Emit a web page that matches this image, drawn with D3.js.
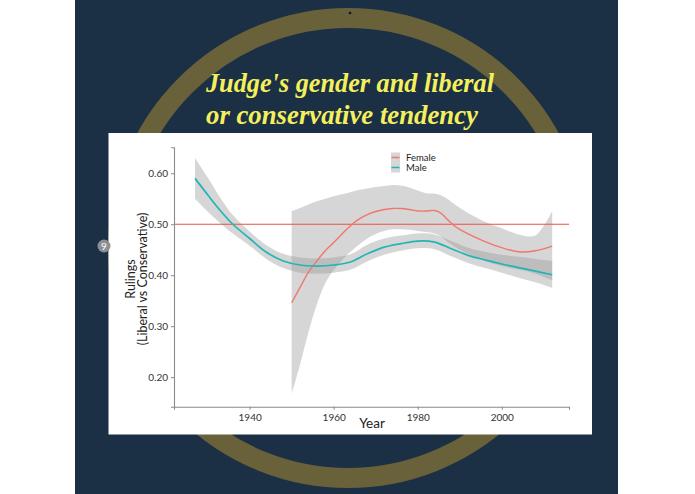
<!DOCTYPE html>
<html>
<head>
<meta charset="utf-8">
<script src="https://d3js.org/d3.v7.min.js"></script>
<style>
  body { margin: 0; background: #ffffff; }
  svg { display: block; }
</style>
</head>
<body>
<div id="chart-area"></div>
<script>
//DATA-----------------------------------------------------------------------
const maleYears  = [1927, 1930, 1933, 1936, 1940, 1944, 1948, 1952, 1956, 1960, 1964, 1968, 1972, 1976, 1980, 1984, 1988, 1992, 1996, 2000, 2004, 2008, 2012]
const maleFit    = [0.590, 0.558, 0.527, 0.500, 0.472, 0.445, 0.428, 0.420, 0.418, 0.420, 0.426, 0.442, 0.455, 0.462, 0.467, 0.465, 0.452, 0.439, 0.430, 0.422, 0.415, 0.408, 0.401]
const maleHigh   = [0.630, 0.592, 0.552, 0.518, 0.486, 0.459, 0.442, 0.435, 0.433, 0.435, 0.441, 0.460, 0.472, 0.478, 0.482, 0.480, 0.467, 0.454, 0.446, 0.440, 0.436, 0.432, 0.428]
const maleLow    = [0.550, 0.525, 0.502, 0.482, 0.458, 0.432, 0.414, 0.405, 0.403, 0.405, 0.411, 0.427, 0.440, 0.448, 0.453, 0.451, 0.437, 0.424, 0.414, 0.405, 0.395, 0.386, 0.375]

const femaleYears = [1950, 1952, 1954, 1956, 1958, 1960, 1962, 1964, 1966, 1968, 1970, 1972, 1974, 1976, 1978, 1980, 1982, 1984, 1985.5, 1987, 1989, 1992, 1996, 2000, 2004, 2008, 2012]
const femaleFit   = [0.346, 0.376, 0.406, 0.428, 0.448, 0.464, 0.481, 0.497, 0.510, 0.519, 0.525, 0.529, 0.531, 0.531, 0.529, 0.526, 0.526, 0.527, 0.522, 0.510, 0.495, 0.481, 0.466, 0.454, 0.446, 0.448, 0.457]
const femaleHigh  = [0.526, 0.532, 0.539, 0.545, 0.550, 0.555, 0.559, 0.563, 0.567, 0.570, 0.573, 0.575, 0.577, 0.576, 0.572, 0.566, 0.561, 0.560, 0.557, 0.550, 0.538, 0.522, 0.505, 0.492, 0.480, 0.478, 0.526]
const femaleLow   = [0.167, 0.225, 0.288, 0.343, 0.384, 0.410, 0.430, 0.446, 0.460, 0.472, 0.481, 0.487, 0.490, 0.490, 0.489, 0.487, 0.485, 0.482, 0.476, 0.466, 0.455, 0.442, 0.428, 0.418, 0.411, 0.403, 0.390]

const refLine   = 0.50
const yTicks    = [0.20, 0.30, 0.40, 0.50, 0.60]
const xTicks    = [1940, 1960, 1980, 2000]
const legendKeys = ['Female', 'Male']
const titleLines = ["Judge's gender and liberal", 'or conservative tendency']

//CANVAS---------------------------------------------------------------------
const W = 695, H = 494
const svg = d3.select('#chart-area').append('svg')
  .attr('width', W)
  .attr('height', H)

// navy slide background + gold ring
svg.append('rect').attr('x', 75).attr('y', 0).attr('width', 543).attr('height', H).attr('fill', '#1b2f45')
svg.append('circle').attr('cx', 348).attr('cy', 248).attr('r', 230)
  .attr('fill', 'none').attr('stroke', '#686139').attr('stroke-width', 20)
svg.append('circle').attr('cx', 350).attr('cy', 13).attr('r', 1.3).attr('fill', '#0d1622')

// title
svg.selectAll('text.title').data(titleLines).enter().append('text')
  .attr('class', 'title')
  .attr('x', 206)
  .attr('y', (d, i) => 92 + i * 32)
  .attr('textLength', (d, i) => i === 0 ? 288 : 272)
  .attr('lengthAdjust', 'spacingAndGlyphs')
  .attr('fill', '#f4ef5c')
  .style('font-family', '"Liberation Serif", "DejaVu Serif", serif')
  .style('font-style', 'italic')
  .style('font-weight', 'bold')
  .style('font-size', '27px')
  .text(d => d)

// white chart panel
svg.append('rect').attr('x', 108.5).attr('y', 133).attr('width', 483.5).attr('height', 301.5).attr('fill', '#ffffff')

// slide number badge
svg.append('circle').attr('cx', 104).attr('cy', 246).attr('r', 6.5).attr('fill', '#8c9094')
svg.append('text').attr('x', 104).attr('y', 249.5).attr('text-anchor', 'middle')
  .attr('fill', '#ffffff').style('font-family', 'Lato, sans-serif').style('font-size', '10px').text('9')

//SCALES---------------------------------------------------------------------
const xScale = d3.scaleLinear().domain([1922, 2016]).range([174, 569])
const yScale = d3.scaleLinear().domain([0.142, 0.651]).range([406.7, 147.3])

const area = d3.area()
  .x(d => xScale(d.year))
  .y0(d => yScale(d.lo))
  .y1(d => yScale(d.hi))
  .curve(d3.curveCatmullRom)
const line = d3.line()
  .x(d => xScale(d.year))
  .y(d => yScale(d.fit))
  .curve(d3.curveCatmullRom)

const male = maleYears.map((y, i) => ({ year: y, fit: maleFit[i], lo: maleLow[i], hi: maleHigh[i] }))
const female = femaleYears.map((y, i) => ({ year: y, fit: femaleFit[i], lo: femaleLow[i], hi: femaleHigh[i] }))

const plot = svg.append('g')

//BANDS----------------------------------------------------------------------
plot.selectAll('path.band').data([female, male]).enter().append('path')
  .attr('class', 'band')
  .attr('d', area)
  .attr('fill', '#999999')
  .attr('fill-opacity', 0.4)

// reference line
plot.append('line')
  .attr('x1', xScale.range()[0]).attr('x2', xScale.range()[1])
  .attr('y1', yScale(refLine)).attr('y2', yScale(refLine))
  .attr('stroke', '#ea4f45').attr('stroke-width', 1.1)

//LINES----------------------------------------------------------------------
const colors = { Female: '#f0776c', Male: '#22b5b6' }
plot.append('path').attr('d', line(female)).attr('fill', 'none').attr('stroke', colors.Female).attr('stroke-width', 1.4)
plot.append('path').attr('d', line(male)).attr('fill', 'none').attr('stroke', colors.Male).attr('stroke-width', 1.7)

//AXES-----------------------------------------------------------------------
const yAxis = d3.axisLeft(yScale).tickValues(yTicks).tickFormat(d3.format('.2f')).tickSize(3).tickPadding(3)
const xAxis = d3.axisBottom(xScale).tickValues(xTicks).tickFormat(d3.format('d')).tickSize(3).tickPadding(4)

const gY = svg.append('g').attr('transform', `translate(${xScale.range()[0]},0)`).call(yAxis)
const gX = svg.append('g').attr('transform', `translate(0,${yScale.range()[0]})`).call(xAxis)
;[gX, gY].forEach(g => {
  g.select('.domain').attr('stroke', '#8a8a8a').attr('stroke-width', 1.1)
  g.selectAll('.tick line').attr('stroke', '#8a8a8a')
  g.selectAll('.tick text').attr('fill', '#333333').style('font-family', 'Lato, sans-serif').style('font-size', '10px')
})

// axis titles
svg.append('text').attr('x', 372).attr('y', 428).attr('text-anchor', 'middle')
  .attr('fill', '#222222').style('font-family', 'Lato, sans-serif').style('font-size', '13.5px').text('Year')
const yTitle = svg.append('text')
  .attr('transform', 'translate(135,279) rotate(-90)')
  .attr('text-anchor', 'middle')
  .attr('fill', '#222222').style('font-family', 'Lato, sans-serif').style('font-size', '12.5px')
yTitle.append('tspan').attr('x', 0).attr('dy', 0).text('Rulings')
yTitle.append('tspan').attr('x', 0).attr('dy', 12).text('(Liberal vs Conservative)')

//LEGEND---------------------------------------------------------------------
const legend = svg.append('g').attr('transform', 'translate(391,152.5)')
const keys = legend.selectAll('g').data(legendKeys).enter().append('g')
  .attr('transform', (d, i) => `translate(0,${i * 10})`)
keys.append('rect').attr('width', 9).attr('height', 10).attr('fill', '#999999').attr('fill-opacity', 0.4)
keys.append('line').attr('x1', 0.5).attr('x2', 8.5).attr('y1', 5).attr('y2', 5)
  .attr('stroke', d => colors[d]).attr('stroke-width', 1.5)
keys.append('text').attr('x', 15).attr('y', 8.2)
  .attr('fill', '#222222').style('font-family', 'Lato, sans-serif').style('font-size', '9.5px').text(d => d)
</script>
</body>
</html>
